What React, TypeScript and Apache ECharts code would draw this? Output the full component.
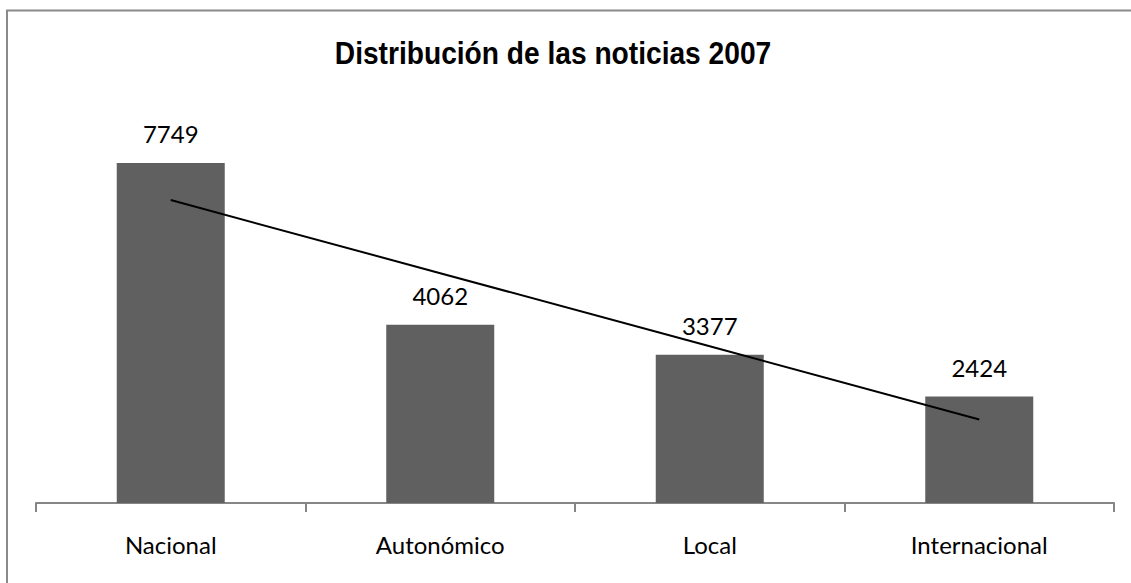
import React, { useEffect, useRef } from "react";
import * as echarts from "echarts";

const titleText = "Distribución de las noticias 2007";
const categories = ["Nacional", "Autonómico", "Local", "Internacional"];
const values = [7749, 4062, 3377, 2424];
const trendValues = [6902, 5236, 3570, 1904];

export default function App() {
  const ref = useRef<HTMLDivElement>(null);
  useEffect(() => {
    if (!ref.current) return;
    const chart = echarts.init(ref.current, undefined, { renderer: "svg" });
    chart.setOption({
      animation: false,
      backgroundColor: "#ffffff",
      graphic: [
        {
          type: "rect",
          shape: { x: 7, y: 10.5, width: 1200, height: 700 },
          style: { fill: "none", stroke: "#8a8a8a", lineWidth: 2 },
          silent: true,
          z: 100,
        },
        {
          type: "text",
          x: 553,
          y: 53,
          scaleX: 0.88,
          silent: true,
          style: {
            text: titleText,
            fill: "#000000",
            fontFamily: "'Liberation Sans', Arial, sans-serif",
            fontWeight: "bold",
            fontSize: 32,
            textAlign: "center",
            textVerticalAlign: "middle",
          },
        },
      ],
      grid: { left: 36, right: 17, top: 108, bottom: 80 },
      xAxis: {
        type: "category",
        data: categories,
        boundaryGap: true,
        axisLine: { show: true, lineStyle: { color: "#868686", width: 2 } },
        axisTick: { show: true, length: 9, lineStyle: { color: "#868686", width: 2 } },
        axisLabel: {
          margin: 29,
          fontFamily: "Lato, sans-serif",
          fontSize: 24,
          color: "#000000",
        },
      },
      yAxis: {
        type: "value",
        min: 0,
        max: 9000,
        show: false,
        splitLine: { show: false },
      },
      series: [
        {
          type: "bar",
          data: values,
          barWidth: 108,
          itemStyle: { color: "#606060" },
          label: {
            show: true,
            position: "top",
            distance: 17,
            fontFamily: "Lato, sans-serif",
            fontSize: 24,
            color: "#000000",
          },
        },
        {
          type: "line",
          data: trendValues,
          symbol: "none",
          lineStyle: { color: "#000000", width: 2 },
          z: 5,
        },
      ],
    });
    return () => chart.dispose();
  }, []);
  return (
    <div
      ref={ref}
      style={{ position: "fixed", left: 0, top: 0, width: 1131, height: 583 }}
    />
  );
}
